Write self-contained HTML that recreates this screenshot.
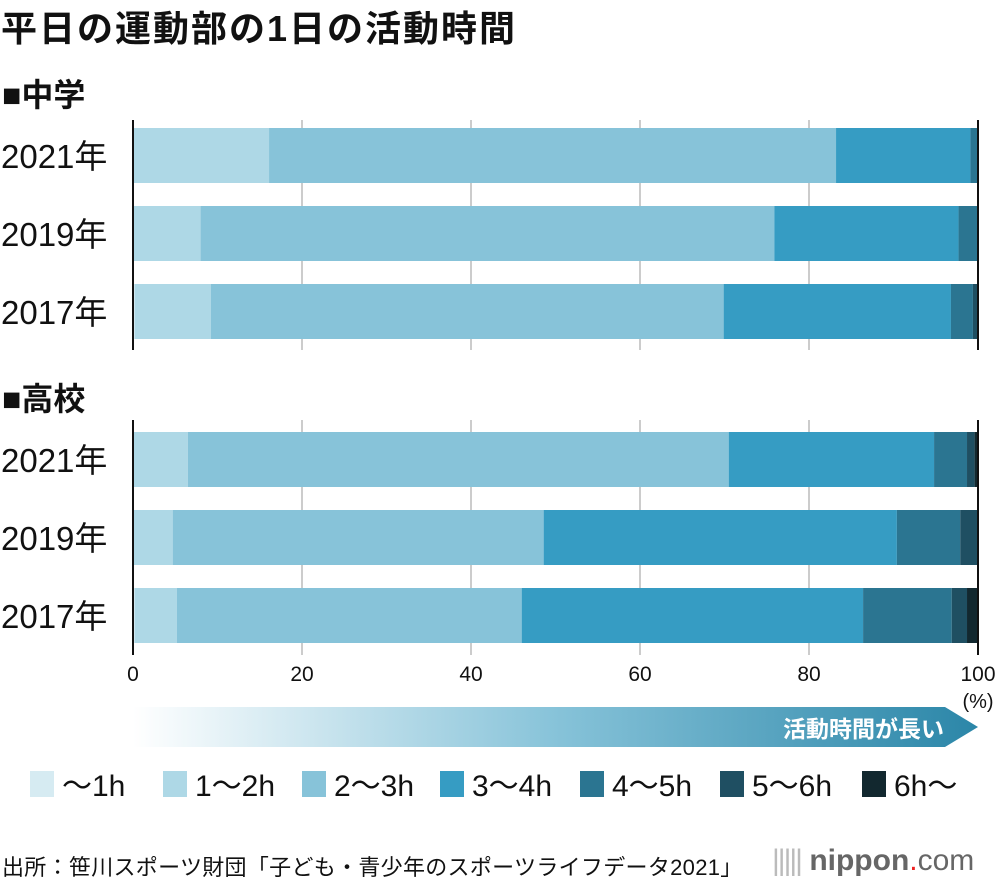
<!DOCTYPE html>
<html><head><meta charset="utf-8"><style>
body{margin:0;width:1000px;height:890px;background:#fff;font-family:"Liberation Sans","Noto Sans CJK JP",sans-serif;overflow:hidden;position:relative}
.t{position:absolute;white-space:nowrap;color:#111}
</style></head><body>
<div class="t" style="left:1px;top:0px;font-size:36px;font-weight:bold;letter-spacing:2px">平日の運動部の1日の活動時間</div>
<div class="t" style="left:2px;top:70px;font-size:32px;font-weight:bold">■中学</div>
<div class="t" style="left:2px;top:374px;font-size:32px;font-weight:bold">■高校</div>
<svg id="chart" width="1000" height="890" style="position:absolute;left:0;top:0">
<defs><linearGradient id="g" x1="0" x2="1"><stop offset="0" stop-color="#fff"/><stop offset="0.5" stop-color="#87c3d9"/><stop offset="1" stop-color="#2b86a8"/></linearGradient></defs>
</svg>
<div class="t" style="left:2px;top:850px;font-size:22px;letter-spacing:0.3px">出所：笹川スポーツ財団「子ども・青少年のスポーツライフデータ2021」</div>
<div class="t" style="left:772px;top:844px;font-size:30px;color:#666"><span style="color:#bbb;letter-spacing:-2px">|||||</span> <b>nippon</b><span style="color:#e22">.</span>com</div>
<script>
const categories=["2021年","2019年","2017年","2021年","2019年","2017年"];
const seriesNames=["～1h","1～2h","2～3h","3～4h","4～5h","5～6h","6h～"];
const s1=[0.1,0.1,0.2,0.1,0.1,0.2];
const s2=[16.0,7.9,9.0,6.4,4.6,5.0];
const s3=[67.1,67.9,60.7,64.0,43.9,40.8];
const s4=[15.9,21.8,26.9,24.3,41.8,40.4];
const s5=[0.8,2.2,2.6,3.9,7.5,10.5];
const s6=[0.1,0.1,0.5,0.9,2.1,1.8];
const s7=[0.0,0.0,0.1,0.4,0.0,1.3];
const ticks=[0,20,40,60,80,100];
const colors=["#d6ebf2","#aed8e6","#87c3d9","#369cc3","#2b7591","#1f4f62","#12282f"];
const NS="http://www.w3.org/2000/svg";
const svg=document.getElementById('chart');
const x=v=>133+v*8.45;
const barY=[128,206,284,432,510,588];
function mk(t,a){const e=document.createElementNS(NS,t);for(const k in a)e.setAttribute(k,a[k]);svg.appendChild(e);return e;}
[[120,350],[420,655]].forEach(r=>{ticks.slice(1,5).forEach(t=>{const l=mk('line',{x1:x(t),x2:x(t),y1:r[0],y2:r[1],stroke:'#ccc','stroke-width':2});

});});
const series=[s1,s2,s3,s4,s5,s6,s7];
categories.forEach((c,i)=>{let acc=0;series.forEach((s,j)=>{const r=mk('rect',{x:x(acc),y:barY[i],width:s[i]*8.45,height:55,fill:colors[j]});

acc+=s[i];});
const t=mk('text',{x:1,y:barY[i]+40,'font-size':33,fill:'#111'});t.textContent=c;

});
[[120,350],[420,655]].forEach(r=>{[0,100].forEach(t=>{const l=mk('line',{x1:x(t),x2:x(t),y1:r[0],y2:r[1],stroke:'#111','stroke-width':2});

});});
ticks.forEach(t=>{const e=mk('text',{x:x(t),y:681,'font-size':21,'text-anchor':'middle',fill:'#111'});e.textContent=t;

});
const u=mk('text',{x:978,y:708,'font-size':20,'text-anchor':'middle',fill:'#111'});u.textContent='(%)';


const ar=mk('polygon',{points:'133,707 945,707 978,727 945,747 133,747',fill:'url(#g)'});


const at=mk('text',{x:944,y:737,'font-size':23,'font-weight':'bold','text-anchor':'end',fill:'#fff'});at.textContent='活動時間が長い';


const lx=[30,163,302,440,580,720,862];
seriesNames.forEach((n,j)=>{const r=mk('rect',{x:lx[j],y:771,width:24,height:26,fill:colors[j]});


const t=mk('text',{x:lx[j]+32,y:796,'font-size':30,fill:'#111'});t.textContent=n;

});
</script>
</body></html>
